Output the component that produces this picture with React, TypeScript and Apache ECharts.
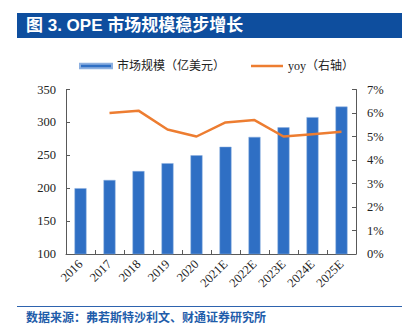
import React, { useEffect, useRef } from "react";
import * as echarts from "echarts";

const categories = ["2016", "2017", "2018", "2019", "2020", "2021E", "2022E", "2023E", "2024E", "2025E"];
const marketSize = [200, 212.5, 226, 238, 250, 263, 278, 292.5, 308, 324];
const yoy = [null, 6.0, 6.1, 5.3, 5.0, 5.6, 5.7, 5.0, 5.1, 5.2];
const leftTicks = { min: 100, max: 350, interval: 50 };
const rightTicks = { min: 0, max: 7, interval: 1 };
const titleText = "图 3. OPE 市场规模稳步增长";
const sourceText = "数据来源：弗若斯特沙利文、财通证券研究所";
const barName = "市场规模（亿美元）";
const lineName = "yoy（右轴）";

const serif = "'Times New Roman', 'Liberation Serif', 'Noto Sans CJK SC', serif";
const axisColor = "#595959";
const labelColor = "#222";
const barColor = "#2F6FC4";
const lineColor = "#ED7D31";

export default function App() {
  const ref = useRef<HTMLDivElement>(null);
  useEffect(() => {
    if (!ref.current) return;
    const chart = echarts.init(ref.current, undefined, { renderer: "svg" });
    const legendText = { fontFamily: serif, fontSize: 12, color: labelColor };
    chart.setOption({
      animation: false,
      backgroundColor: "#fff",
      grid: { left: 66, right: 57, top: 89.5, bottom: 71, containLabel: false },
      legend: [
        {
          left: 74,
          top: 55,
          itemWidth: 32,
          itemHeight: 4.5,
          textStyle: legendText,
          data: [{ name: barName, icon: "rect" }],
        },
        {
          left: 246,
          top: 55,
          itemWidth: 32,
          itemHeight: 2.5,
          textStyle: legendText,
          data: [{ name: lineName, icon: "rect", itemStyle: { color: lineColor } }],
        },
      ],
      xAxis: {
        type: "category",
        data: categories,
        boundaryGap: true,
        axisLine: { show: true, lineStyle: { color: axisColor, width: 1 } },
        axisTick: { show: true, inside: true, interval: 0, alignWithLabel: false, length: 4, lineStyle: { color: axisColor } },
        axisLabel: { rotate: 45, interval: 0, margin: 8, fontFamily: serif, fontSize: 12.5, color: labelColor },
        splitLine: { show: false },
      },
      yAxis: [
        {
          type: "value",
          min: leftTicks.min,
          max: leftTicks.max,
          interval: leftTicks.interval,
          axisLine: { show: true, lineStyle: { color: axisColor, width: 1 } },
          axisTick: { show: true, inside: true, length: 4, lineStyle: { color: axisColor } },
          axisLabel: { margin: 10, fontFamily: serif, fontSize: 12.5, color: labelColor },
          splitLine: { show: false },
        },
        {
          type: "value",
          position: "right",
          min: rightTicks.min,
          max: rightTicks.max,
          interval: rightTicks.interval,
          axisLine: { show: true, lineStyle: { color: axisColor, width: 1 } },
          axisTick: { show: true, inside: true, length: 4, lineStyle: { color: axisColor } },
          axisLabel: { margin: 11, formatter: "{value}%", fontFamily: serif, fontSize: 12.5, color: labelColor },
          splitLine: { show: false },
        },
      ],
      series: [
        {
          name: barName,
          type: "bar",
          data: marketSize,
          barWidth: 12,
          itemStyle: { color: barColor, borderColor: "#8DB0E0", borderWidth: 0.5 },
        },
        {
          name: lineName,
          type: "line",
          yAxisIndex: 1,
          data: yoy,
          symbol: "none",
          connectNulls: false,
          lineStyle: { color: lineColor, width: 2.5 },
          itemStyle: { color: lineColor },
        },
      ],
      graphic: [
        {
          type: "rect",
          shape: { x: 17, y: 13, width: 385, height: 25 },
          style: { fill: "#0E4E9E" },
          silent: true,
        },
        {
          type: "text",
          x: 26,
          y: 25.5,
          style: {
            text: titleText,
            fill: "#fff",
            font: "bold 17px Arial, 'Liberation Sans', 'Noto Sans CJK SC', sans-serif",
            verticalAlign: "middle",
          },
        },
        {
          type: "line",
          shape: { x1: 17, y1: 306.5, x2: 402, y2: 306.5 },
          style: { stroke: "#2E63AE", lineWidth: 1 },
        },
        {
          type: "text",
          x: 26,
          y: 316,
          style: {
            text: sourceText,
            fill: "#1F5DAA",
            font: "bold 12px 'Noto Sans CJK SC', sans-serif",
            verticalAlign: "middle",
          },
        },
      ],
    });
    return () => chart.dispose();
  }, []);
  return (
    <div style={{ position: "absolute", left: 0, top: 0, width: 413, height: 325 }}>
      <div ref={ref} style={{ width: 413, height: 325 }} />
    </div>
  );
}
